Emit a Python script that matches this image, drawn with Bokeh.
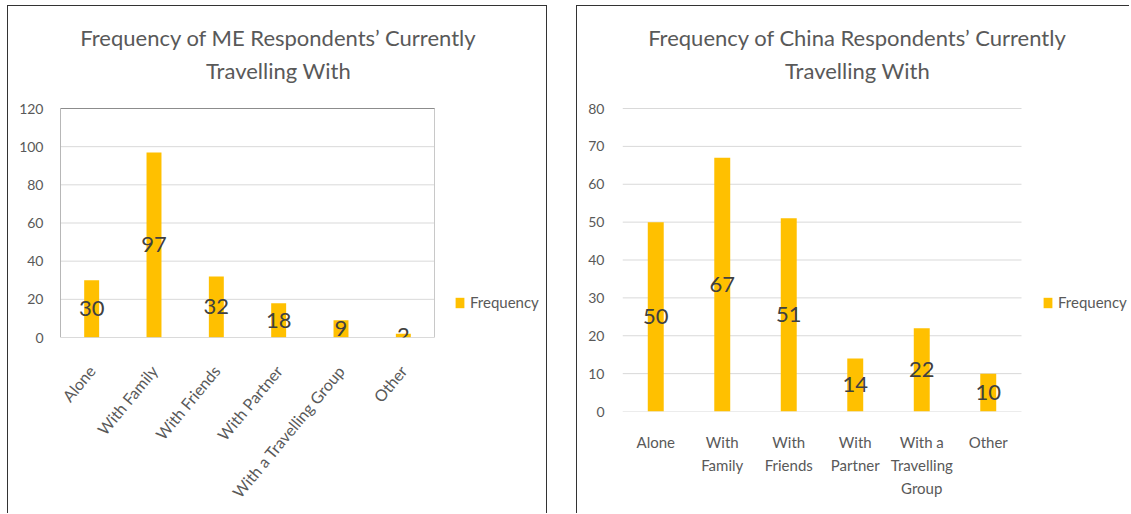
from bokeh.plotting import figure
from bokeh.models import (ColumnDataSource, FixedTicker, Legend, LegendItem, LabelSet,
                          Range1d, Label, LinearAxis)
from bokeh.layouts import row
from bokeh.embed import file_html
from bokeh.resources import INLINE
from bokeh.core.properties import value

# ---------------- data ----------------
categories = ["Alone", "With Family", "With Friends", "With Partner",
              "With a Travelling Group", "Other"]
me_values = [30, 97, 32, 18, 9, 2]
china_values = [50, 67, 51, 14, 22, 10]
me_title = ["Frequency of ME Respondents\u2019 Currently", "Travelling With"]
china_title = ["Frequency of China Respondents\u2019 Currently", "Travelling With"]
me_ticks = [0, 20, 40, 60, 80, 100, 120]
china_ticks = [0, 10, 20, 30, 40, 50, 60, 70, 80]
# China x labels wrapped over three lines
china_line1 = ["Alone", "With", "With", "With", "With a", "Other"]
china_line2 = ["", "Family", "Friends", "Partner", "Travelling", ""]
china_line3 = ["", "", "", "", "Group", ""]
series_name = "Frequency"

FONT = "Lato"
BAR = "#FFC000"
GRID = "#d9d9d9"
TXT = "#595959"
LBL = "#404040"


def style_axis(ax, size):
    ax.axis_line_color = None
    ax.major_tick_line_color = None
    ax.minor_tick_line_color = None
    ax.major_label_text_font = FONT
    ax.major_label_text_font_size = size
    ax.major_label_text_color = TXT


def make_fig(values, title_lines, ticks, ymax, width, height, bl, bb, plot_w, plot_h,
             title_pos, legend_pos, styles):
    n = len(categories)
    idx = list(range(n))
    frame_w = width - bl
    frame_h = height - bb
    # the frame also holds the title and legend area; the plot area is [-0.5, n-0.5] x [0, ymax]
    xr = Range1d(-0.5, -0.5 + n * frame_w / plot_w)
    yr = Range1d(0, ymax * frame_h / plot_h)
    src = ColumnDataSource(dict(cat=idx, val=values,
                                mid=[v / 2 for v in values],
                                txt=[str(v) for v in values]))
    p = figure(x_range=xr, y_range=yr, width=width, height=height,
               output_backend="svg", toolbar_location=None,
               min_border_left=bl, min_border_right=0,
               min_border_top=0, min_border_bottom=bb, frame_align=False,
               styles=styles)
    p.xgrid.visible = False
    p.ygrid.visible = False
    p.outline_line_color = None
    # horizontal gridlines over the plot area
    p.segment(x0=[-0.5] * len(ticks), x1=[n - 0.5] * len(ticks), y0=ticks, y1=ticks,
              line_color=GRID, line_width=1)
    r = p.vbar(x="cat", top="val", width=0.24, source=src, fill_color=BAR, line_color=None)
    p.add_layout(LabelSet(x="cat", y="mid", text="txt", source=src,
                          text_align="center", text_baseline="middle",
                          text_font=value(FONT), text_font_size=value("22px"),
                          text_color=LBL))
    p.yaxis.ticker = FixedTicker(ticks=ticks)
    style_axis(p.yaxis, "14px")
    p.xaxis.ticker = FixedTicker(ticks=idx)
    style_axis(p.xaxis, "15px")
    # title: two centred lines
    tx, ty1, ty2 = title_pos
    for line, ty in zip(title_lines, (ty1, ty2)):
        p.add_layout(Label(x=tx, y=ty, x_units="screen", y_units="screen", text=line,
                           text_align="center", text_baseline="middle",
                           text_font=FONT, text_font_size="22px", text_color=TXT))
    leg = Legend(items=[LegendItem(label=series_name, renderers=[r])],
                 location=legend_pos, padding=0, margin=0, spacing=0,
                 glyph_width=11, glyph_height=13, label_standoff=5, label_height=20,
                 label_text_font=FONT, label_text_font_size="15px",
                 label_text_color=TXT, border_line_color=None,
                 background_fill_alpha=0)
    p.add_layout(leg, "center")
    return p, idx


n = len(categories)

# ---------- left panel (ME) ----------
p1, idx1 = make_fig(me_values, me_title, me_ticks, 120, 540, 508, 52, 177, 374, 229,
                    (218, 300, 267), (394, 25),
                    {"border-left": "1px solid #333", "border-top": "1px solid #333",
                     "border-right": "1px solid #333", "margin-left": "7px",
                     "margin-top": "5px"})
# plot-area box: light right/bottom edges, darker left/top edges
p1.quad(left=[-0.5], right=[n - 0.5], bottom=[0], top=[120], fill_color=None,
        line_color="#c8c8c8")
p1.segment(x0=[-0.5, -0.5], y0=[0, 120], x1=[-0.5, n - 0.5], y1=[120, 120],
           line_color="#8c8c8c")
p1.yaxis.major_label_standoff = 11
p1.xaxis.major_label_overrides = dict(zip(idx1, categories))
p1.xaxis.major_label_orientation = 0.88
p1.xaxis.major_label_standoff = 24
p1.xaxis.major_label_text_font_size = "16px"

# ---------- right panel (China) ----------
p2, idx2 = make_fig(china_values, china_title, china_ticks, 80, 553, 508, 45, 103, 399, 303,
                    (235, 374, 341), (420, 99),
                    {"border-left": "1px solid #333", "border-top": "1px solid #333",
                     "margin-left": "29px", "margin-top": "5px"})
p2.yaxis.major_label_standoff = 12
p2.xaxis.major_label_overrides = dict(zip(idx2, china_line1))
p2.xaxis.major_label_standoff = 15
for lines in (china_line2, china_line3):
    ax = LinearAxis(ticker=FixedTicker(ticks=idx2),
                    major_label_overrides=dict(zip(idx2, lines)))
    style_axis(ax, "15px")
    ax.major_label_standoff = -4
    p2.add_layout(ax, "below")

layout = row(p1, p2, spacing=0)
open("out.html", "w").write(file_html(layout, INLINE))
